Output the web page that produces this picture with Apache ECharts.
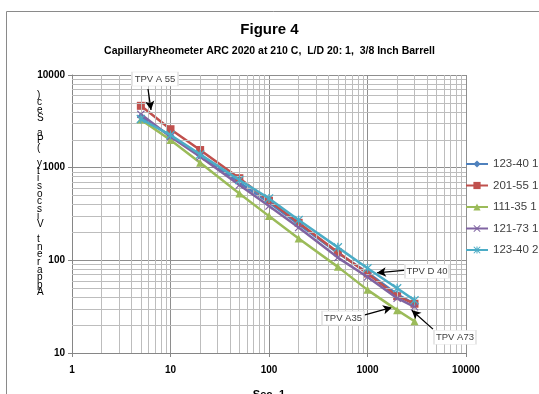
<!DOCTYPE html>
<html>
<head>
<meta charset="utf-8">
<script src="https://cdn.jsdelivr.net/npm/echarts@6/dist/echarts.min.js"></script>
<style>html,body{margin:0;padding:0;background:#fff}#c{width:539px;height:394px}</style>
</head>
<body>
<div id="c"></div>
<script>
var shearRates = [5, 10, 20, 50, 100, 200, 500, 1000, 2000, 3000];
var s123_40_1 = [3550, 2200, 1350, 690, 420, 245, 120, 74, 43, 34];
var s201_55_1 = [4650, 2600, 1550, 770, 440, 254, 122, 72, 41, 34];
var s111_35_1 = [3300, 1990, 1130, 527, 300, 172, 85, 48, 29, 22];
var s121_73_1 = [3760, 2160, 1310, 649, 385, 226, 107, 66, 39, 31.5];
var s123_40_2 = [3350, 2250, 1390, 735, 466, 272, 138, 82, 50, 37];
var seriesNames = ['123-40 1', '201-55 1', '111-35 1', '121-73 1', '123-40 2'];
var xTicks = [1, 10, 100, 1000, 10000];
var yTicks = [10, 100, 1000, 10000];
var annLabels = [
  {name: 'TPV A 55', at: [6.96, 9060], tail: [5.91, 7060], tip: [6.34, 4190], w: 46},
  {name: 'TPV D 40', at: [4018, 76.4], tail: [2460, 78.4], tip: [1248, 73.3], w: 44},
  {name: 'TPV A35', at: [564, 23.8], tail: [921, 25.6], tip: [1774, 31.0], w: 42},
  {name: 'TPV A73', at: [7730, 14.8], tail: [4620, 18.1], tip: [2810, 29.0], w: 42}
];
var yTitle = 'Apparent Viscosity (Pa Sec)';

var colors = ['#4F81BD', '#C0504D', '#9BBB59', '#8064A2', '#4BACC6'];
var xPath = 'path://M1,0 L5,4 L9,0 L10,1 L6,5 L10,9 L9,10 L5,6 L1,10 L0,9 L4,5 L0,1 Z';
var starPath = 'path://M1,0 L5,4 L9,0 L10,1 L6,5 L10,9 L9,10 L5,6 L1,10 L0,9 L4,5 L0,1 Z M4.3,0 L5.7,0 L5.7,10 L4.3,10 Z';
var symbols = ['diamond', 'rect', 'triangle', xPath, starPath];
var sizes = [8, 8, 8, 8, 9];
var allData = [s123_40_1, s201_55_1, s111_35_1, s121_73_1, s123_40_2];

var minorX = [], minorY = [];
[1, 10, 100, 1000].forEach(function (d) {
  for (var k = 2; k <= 9; k++) minorX.push({xAxis: d * k});
});
[10, 100, 1000].forEach(function (d) {
  for (var k = 2; k <= 9; k++) minorY.push({yAxis: d * k});
});

var series = [{
  type: 'line', data: [], z: 1, silent: true,
  markLine: {
    silent: true, symbol: 'none', animation: false,
    label: {show: false},
    lineStyle: {color: '#bdbdbd', type: 'solid', width: 1},
    data: minorX.concat(minorY)
  }
}];
allData.forEach(function (arr, i) {
  series.push({
    name: seriesNames[i], type: 'line', z: 3 + i,
    data: shearRates.map(function (x, j) { return [x, arr[j]]; }),
    symbol: symbols[i], symbolSize: sizes[i], showAllSymbol: true,
    itemStyle: {color: colors[i]},
    lineStyle: {color: colors[i], width: 2.5},
    animation: false
  });
});
series.push({
  type: 'line', data: [], z: 20, silent: true,
  markLine: {
    silent: true, animation: false, symbol: ['none', 'arrow'], symbolSize: [7, 9],
    label: {show: false},
    lineStyle: {color: '#000', type: 'solid', width: 1.3},
    data: annLabels.map(function (a) { return [{coord: a.tail}, {coord: a.tip}]; })
  },
  markPoint: {
    silent: true, animation: false,
    data: annLabels.map(function (a) {
      return {name: a.name, coord: a.at, symbol: 'rect', symbolSize: [a.w, 14],
        itemStyle: {color: '#fff', borderColor: '#e4e4e4', borderWidth: 1}};
    }),
    label: {show: true, position: 'inside', formatter: '{b}', color: '#404040',
      fontSize: 9.5, fontFamily: 'Liberation Sans'}
  }
});

var chart = echarts.init(document.getElementById('c'), null, {renderer: 'canvas'});
chart.setOption({
  animation: false,
  backgroundColor: '#fff',
  title: [
    {text: 'Figure 4', left: 'center', top: 17,
      textStyle: {fontSize: 15, fontWeight: 'bold', fontFamily: 'Liberation Sans', color: '#000'}},
    {text: 'CapillaryRheometer ARC 2020 at 210 C,  L/D 20: 1,  3/8 Inch Barrell', left: 'center', top: 41,
      textStyle: {fontSize: 10.5, fontWeight: 'bold', fontFamily: 'Liberation Sans', color: '#000'}}
  ],
  legend: {
    orient: 'vertical', left: 465, top: 158, itemGap: 9.5, padding: 0,
    itemWidth: 22, itemHeight: 9,
    data: seriesNames,
    textStyle: {fontSize: 11.5, color: '#404040', fontFamily: 'Liberation Sans'}
  },
  grid: {left: 72, right: 73, top: 75, bottom: 41, outerBoundsMode: 'none', containLabel: false},
  xAxis: {
    type: 'log', logBase: 10, min: xTicks[0], max: xTicks[xTicks.length - 1],
    name: 'Sec -1', nameLocation: 'middle', nameGap: 36,
    nameTextStyle: {fontSize: 11, fontWeight: 'bold', color: '#000', fontFamily: 'Liberation Sans'},
    axisLine: {show: true, lineStyle: {color: '#868686', width: 1}},
    axisTick: {show: true, length: 4, lineStyle: {color: '#868686'}},
    axisLabel: {fontSize: 10, fontWeight: 'bold', color: '#000', margin: 12, fontFamily: 'Liberation Sans',
      formatter: function (v) { return String(Math.round(v)); }},
    splitLine: {show: true, lineStyle: {color: '#8e8e8e', width: 1}}
  },
  yAxis: {
    type: 'log', logBase: 10, min: yTicks[0], max: yTicks[yTicks.length - 1],
    axisLine: {show: true, lineStyle: {color: '#868686', width: 1}},
    axisTick: {show: true, length: 4, lineStyle: {color: '#868686'}},
    axisLabel: {fontSize: 10, fontWeight: 'bold', color: '#000', margin: 7, fontFamily: 'Liberation Sans',
      formatter: function (v) { return String(Math.round(v)); }},
    splitLine: {show: true, lineStyle: {color: '#8e8e8e', width: 1}}
  },
  graphic: [
    {type: 'rect', shape: {x: 6.5, y: 11.5, width: 560, height: 420}, z: -10,
      style: {fill: null, stroke: '#8a8a8a', lineWidth: 1}, silent: true},
    {type: 'text', left: 37, top: 90, z: 10, silent: true,
      style: {text: yTitle.split('').reverse().join('\n'), fontSize: 10,
        lineHeight: 7.6, fill: '#000', fontFamily: 'Liberation Sans', align: 'left'}}
  ],
  series: series
});
</script>
</body>
</html>
